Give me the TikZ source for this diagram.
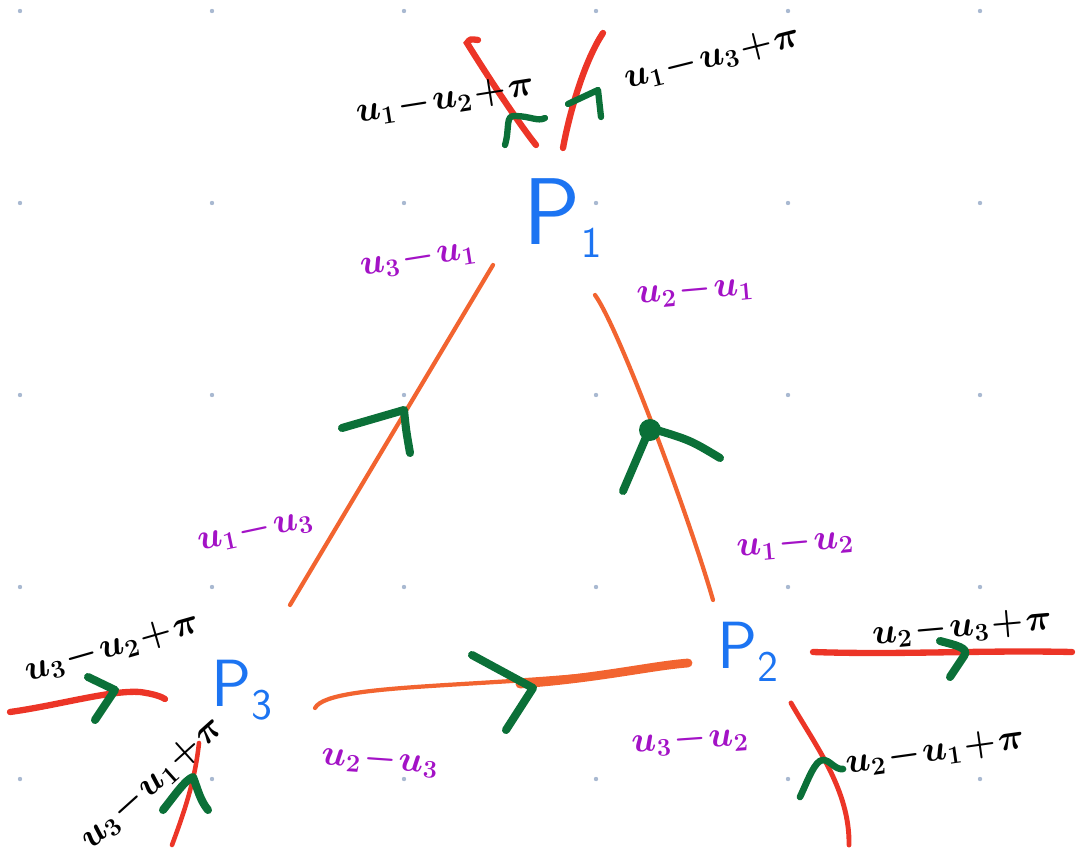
\documentclass[tikz,border=0pt]{standalone}
\usepackage{amsmath}
\definecolor{gridc}{HTML}{A9B9D1}
\definecolor{orng}{HTML}{F26430}
\definecolor{redc}{HTML}{EC3527}
\definecolor{grn}{HTML}{0B7038}
\definecolor{purp}{HTML}{A312C6}
\definecolor{blu}{HTML}{1C74F2}
\begin{document}
\begin{tikzpicture}[x=0.02cm,y=-0.02cm,
  edgeline/.style={orng,line width=2.4pt,line cap=round},
  redline/.style={redc,line width=3.6pt,line cap=round},
  arrowmark/.style={grn,line width=4.6pt,line cap=round,line join=round},
  plabel/.style={purp,inner sep=0pt,font=\fontsize{20}{24}\selectfont\boldmath},
  blabel/.style={black,inner sep=0pt,font=\fontsize{22}{26}\selectfont\boldmath},
  pnode/.style={blu,inner sep=0pt,font=\fontsize{38}{42}\selectfont\sffamily}]
\useasboundingbox (0,0) rectangle (1078,858);
% grid dots
\foreach \gx in {20,212,404,596,788,980}
  \foreach \gy in {11,203,395,587,779}
    \fill[gridc] (\gx,\gy) circle (2.2);
% points
\node[pnode,font=\fontsize{54}{58}\selectfont\sffamily] (p1) at (563,218) {P$_{\mathsf{1}}$};
\node[pnode] (p2) at (748,652) {P$_{\mathsf{2}}$};
\node[pnode] (p3) at (242,690) {P$_{\mathsf{3}}$};
% triangle edges
\coordinate (a1) at (493,265); \coordinate (a2) at (290,605);
\draw[edgeline] (a1) -- (a2);
\coordinate (b1) at (595,295); \coordinate (b2) at (713,600);
\draw[edgeline] (b1) .. controls (620,330) and (690,520) .. (b2);
\coordinate (c1) at (315,708); \coordinate (c2) at (688,663);
\draw[edgeline] (c1) .. controls (330,680) and (520,690) .. (c2);
\draw[orng,line width=5pt,line cap=round] (520,684) .. controls (600,678) and (650,666) .. (c2);
% green arrowheads on edges
\draw[arrowmark] (342,428) -- (404,410) .. controls (406,430) .. (410,453);
\draw[arrowmark] (623,491) -- (650,428) .. controls (690,440) .. (720,458);
\fill[grn] (650,430) circle (11);
\draw[arrowmark] (472,655) -- (533,688) -- (506,730);
% red rays at P1
\draw[redline] (478,40) .. controls (470,39) .. (467,43) .. controls (490,80) and (520,125) .. (536,145);
\draw[redline] (603,33) .. controls (585,60) and (570,110) .. (563,148);
\draw[arrowmark,line width=3.6pt] (505,145) .. controls (510,128) and (505,115) .. (515,116) .. controls (530,116) and (538,122) .. (545,118);
\draw[arrowmark,line width=3.6pt] (568,104) -- (598,90) -- (601,117);
% red rays at P2
\draw[redline] (813,652) .. controls (900,655) and (980,650) .. (1072,652);
\draw[arrowmark] (940,641) .. controls (955,645) and (970,648) .. (964,656) -- (950,677);
\draw[redline,line width=2.8pt] (791,703) .. controls (815,745) and (850,790) .. (849,845);
\draw[arrowmark,line width=3.8pt] (800,797) .. controls (808,780) and (815,760) .. (823,760) .. controls (830,760) and (835,770) .. (843,769);
% red rays at P3
\draw[redline] (10,712) .. controls (60,705) and (110,690) .. (140,692) .. controls (155,694) and (162,697) .. (165,699);
\draw[arrowmark] (88,677) -- (115,690) -- (95,720);
\draw[redline,line width=2.6pt] (199,743) .. controls (195,780) and (185,810) .. (172,845);
\draw[arrowmark] (163,810) .. controls (175,795) and (185,780) .. (193,777) .. controls (198,790) and (200,800) .. (208,810);
% purple edge labels
\node[plabel,rotate=9] (l31) at (418,258) {$u_3\!-\!u_1$};
\node[plabel,rotate=5] (l21) at (695,290) {$u_2\!-\!u_1$};
\node[plabel,rotate=12] (l13) at (255,530) {$u_1\!-\!u_3$};
\node[plabel,rotate=5] (l12) at (795,543) {$u_1\!-\!u_2$};
\node[plabel,rotate=-4] (l23) at (380,760) {$u_2\!-\!u_3$};
\node[plabel,rotate=4] (l32) at (690,740) {$u_3\!-\!u_2$};
% black ray labels
\node[blabel,rotate=9] (r12) at (445,100) {$u_1\!-\!u_2\!+\!\pi$};
\node[blabel,rotate=14] (r13) at (712,58) {$u_1\!-\!u_3\!+\!\pi$};
\node[blabel,rotate=5] (r23) at (962,628) {$u_2\!-\!u_3\!+\!\pi$};
\node[blabel,rotate=8] (r21) at (935,752) {$u_2\!-\!u_1\!+\!\pi$};
\node[blabel,rotate=16] (r32) at (112,648) {$u_3\!-\!u_2\!+\!\pi$};
\node[blabel,rotate=42,font=\fontsize{20}{24}\selectfont\boldmath] (r31) at (152,784) {$u_3\!-\!u_1\!+\!\pi$};
\end{tikzpicture}
\end{document}
